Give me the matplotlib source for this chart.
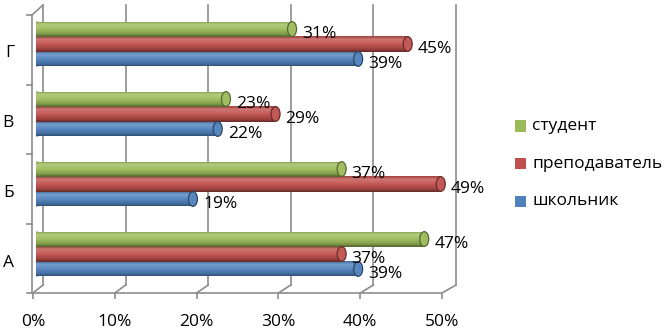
import numpy as np
import matplotlib.pyplot as plt
from matplotlib.colors import to_rgb
from matplotlib.patches import Rectangle, Ellipse
from matplotlib.lines import Line2D
from matplotlib.transforms import ScaledTranslation

plt.rcParams['font.family'] = ['Open Sans', 'DejaVu Sans']

categories = ['А', 'Б', 'В', 'Г']
series = ['школьник', 'преподаватель', 'студент']
shkolnik = [0.39, 0.19, 0.22, 0.39]
prepod = [0.37, 0.49, 0.29, 0.45]
student = [0.47, 0.37, 0.23, 0.31]
colors = ['#4F81BD', '#C0504D', '#9BBB59']
tick_labels = ['0%', '10%', '20%', '30%', '40%', '50%']

W, H = 667, 329
FS = 12.5
GRID = '#8c8c8c'

fig = plt.figure(figsize=(W / 100, H / 100), dpi=100)


def fx(x, y):
    # pixel (from top-left) -> figure fraction
    return x / W, 1 - y / H


# cylinder profile, top (0) to bottom (1): (position, mix with white, darken factor)
profile_t = [0.0, 0.2, 0.5, 0.8, 1.0]
profile_w = [0.0, 0.22, 0.05, 0.0, 0.0]
profile_d = [0.85, 1.0, 1.0, 0.85, 0.55]


def shade(c, t):
    r = np.array(to_rgb(c))
    w = np.interp(t, profile_t, profile_w)
    d = np.interp(t, profile_t, profile_d)
    return tuple(np.clip((r * (1 - w) + w) * d, 0, 1))


ax = fig.add_axes([36 / W, 1 - 289 / H, 413 / W, 280 / H])
ax.set_xlim(0, 0.5)
ax.set_ylim(-0.5, 3.5)
ax.axis('off')

# back wall gridlines
back = ax.transData + ScaledTranslation(7 / 100, 4 / 100, fig.dpi_scale_trans)
for k in range(6):
    ax.plot([k * 0.1, k * 0.1], [-0.5, 3.5], color=GRID, lw=1.2, transform=back,
            clip_on=False, zorder=0)

# floor axis (front)
fa = fig.add_axes([33 / W, 1 - 293 / H, 409 / W, 0.0001])
fa.set_xlim(0, 0.5)
fa.set_xticks(np.arange(6) * 0.1, tick_labels)
fa.tick_params(axis='x', length=4, width=1.2, color=GRID, labelsize=FS, pad=11)
fa.set_yticks([])
for s in ['top', 'left', 'right']:
    fa.spines[s].set_visible(False)
fa.spines['bottom'].set_color(GRID)
fa.spines['bottom'].set_linewidth(1.2)
fa.patch.set_visible(False)

fig.canvas.draw()
to_fig = fig.transFigure.inverted()
for k in range(6):
    p_back = back.transform((k * 0.1, -0.5))
    p_front = fa.transData.transform((k * 0.1, 0))
    pts = to_fig.transform([p_back, p_front])
    fig.add_artist(Line2D(pts[:, 0], pts[:, 1], color=GRID, lw=1.2))

# left wall
x0, y0 = fx(32, 15)
x1, y1 = fx(32, 293)
fig.add_artist(Line2D([x0, x1], [y0, y1], color=GRID, lw=1.2))
bx, by = fx(43, 5)
fig.add_artist(Line2D([x0, bx], [y0, by], color=GRID, lw=1.2))
for yb in np.linspace(15, 293, 5):
    a = fx(27, yb)
    b = fx(32, yb)
    fig.add_artist(Line2D([a[0], b[0]], [a[1], b[1]], color=GRID, lw=1.2))

# bars as stacks of thin strips for the cylinder shading
step = 0.214
h = 0.214
n = 24
cap = 4.5 / 826
y = np.arange(len(categories))
for j, (vals, c) in enumerate(zip([shkolnik, prepod, student], colors)):
    yc = y + (j - 1) * step
    for s in range(n):
        t = (s + 0.5) / n
        ax.barh(yc + h / 2 - (s + 0.5) * h / n, vals, height=h / n * 1.05, left=0,
                color=shade(c, t), edgecolor='none', zorder=2)
    for i, v in enumerate(vals):
        ax.add_patch(Ellipse((v, yc[i]), 2 * cap, h * 0.98, facecolor=shade(c, 0.5),
                             edgecolor=shade(c, 1.0), lw=0.9, zorder=3))
        ax.add_patch(Ellipse((0.0015, yc[i]), 2 * cap, h, facecolor=shade(c, 0.9),
                             edgecolor='none', zorder=1))
        ax.annotate(f'{round(v * 100)}%', (v, yc[i]), xytext=(10, -5), textcoords='offset pixels',
                    ha='left', va='center', fontsize=FS, zorder=4)

ax.set_xlim(0, 0.5)
ax.set_ylim(-0.5, 3.5)

for i, cat in enumerate(categories):
    ax.annotate(cat, (0, i), xytext=(-22, -9), textcoords='offset pixels',
                ha='right', va='center', fontsize=FS)

# legend
for j, name in enumerate(['студент', 'преподаватель', 'школьник']):
    c = colors[::-1][j]
    yc = 126 + j * 37.5
    lx, ly = fx(515, yc + 5.5)
    fig.add_artist(Rectangle((lx, ly), 11 / W, 11 / H, facecolor=c, edgecolor='none',
                             transform=fig.transFigure))
    tx, ty = fx(532, yc)
    fig.text(tx, ty, name, ha='left', va='center', fontsize=FS)

fig.savefig('out.png', dpi=100)
